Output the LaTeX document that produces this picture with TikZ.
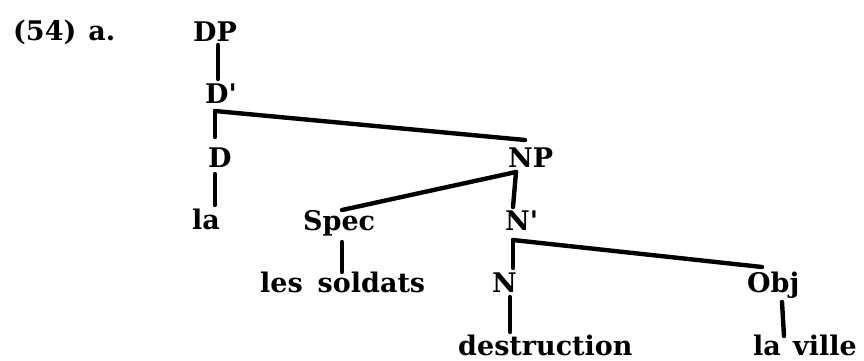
\documentclass[tikz,border=0pt]{standalone}
\usepackage{fontspec}
\setmainfont{DejaVu Serif}
\begin{document}
\begin{tikzpicture}[x=1pt,y=-1pt,
  lab/.style={inner sep=0pt,anchor=base west,font=\fontsize{27}{30}\selectfont\bfseries},
  br/.style={line width=4.4pt,line cap=round,line join=round}]
\useasboundingbox (0,0) rectangle (864,360);
% labels
\node[lab] (ex) at (13,40) {(54)\hspace{0.45em}a.};
\node[lab] (DP) at (193,41) {DP};
\node[lab] (Dbar) at (205,103) {D\textquotesingle};
\node[lab] (D) at (208,167) {D};
\node[lab] (la) at (192,229) {la};
\node[lab] (NP) at (508,167) {NP};
\node[lab] (Spec) at (303,230) {Spec};
\node[lab] (Nbar) at (505,230) {N\textquotesingle};
\node[lab] (soldats) at (260,292) {les\hspace{0.55em}soldats};
\node[lab] (N) at (492,292) {N};
\node[lab] (Obj) at (747,292) {Obj};
\node[lab] (destr) at (458,355) {destruction};
\node[lab] (ville) at (753,355) {la\hspace{0.45em}ville};
% fork points
\coordinate (fD) at (215,111);
\coordinate (fNP) at (516,172);
\coordinate (fN) at (513,240);
% connectors
\draw[br] ([xshift=25pt,yshift=-4pt]DP.base west) -- ([xshift=13pt,yshift=24pt]Dbar.base west);
\draw[br] (fD) -- ([xshift=7pt,yshift=30pt]D.base west);
\draw[br] (fD) -- ([xshift=17pt,yshift=27pt]NP.base west);
\draw[br] ([xshift=7pt,yshift=-7pt]D.base west) -- ([xshift=23pt,yshift=24pt]la.base west);
\draw[br] (fNP) -- ([xshift=39pt,yshift=20pt]Spec.base west);
\draw[br] (fNP) -- ([xshift=8pt,yshift=23pt]Nbar.base west);
\draw[br] ([xshift=39pt,yshift=-12pt]Spec.base west) -- ([xshift=82pt,yshift=20pt]soldats.base west);
\draw[br] (fN) -- ([xshift=21pt,yshift=24pt]N.base west);
\draw[br] (fN) -- ([xshift=15pt,yshift=25pt]Obj.base west);
\draw[br] ([xshift=18pt,yshift=-5pt]N.base west) -- ([xshift=52pt,yshift=23pt]destr.base west);
\draw[br] ([xshift=35pt,yshift=-10pt]Obj.base west) -- ([xshift=31pt,yshift=19pt]ville.base west);
\end{tikzpicture}
\end{document}
